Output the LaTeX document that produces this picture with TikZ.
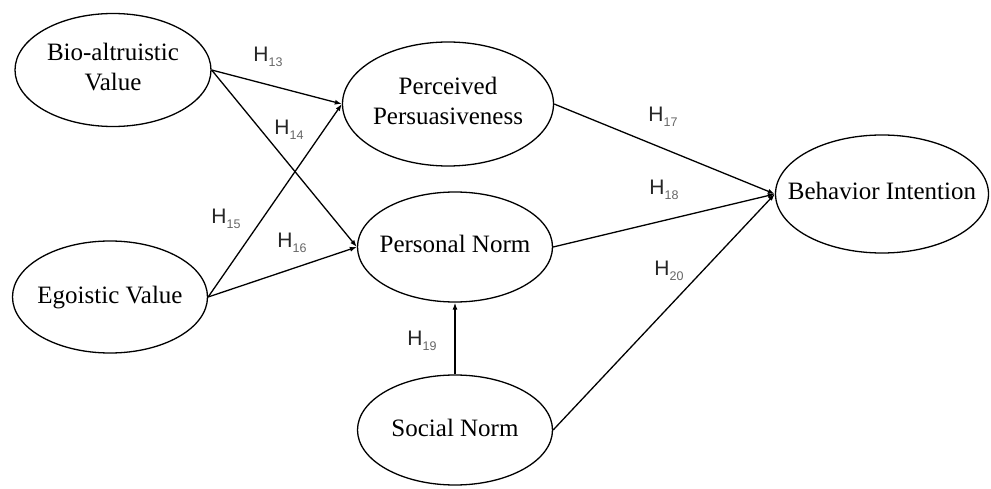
\documentclass[tikz,border=0pt]{standalone}
\usepackage{fontspec}
\setmainfont{Liberation Serif}
\newfontfamily\hfont{Liberation Sans}
\usetikzlibrary{shapes.geometric,arrows.meta}

% construct names are centred in a zero-width box so the ellipse keeps its given size
\newcommand{\cname}[1]{\makebox[0pt]{\begin{tabular}{@{}c@{}}#1\end{tabular}}}
\newcommand{\hyplabel}[1]{H\raisebox{-0.22em}{\fontsize{12.5}{12.5}\selectfont\color{black!60}#1}}

\tikzset{
  construct/.style={draw, ellipse, line width=1.3pt, inner sep=0pt,
    font=\fontsize{25}{30}\selectfont},
  path/.style={line width=1.3pt, -{Latex[length=7pt,width=5pt]}},
  hyp/.style={inner sep=0pt, font=\hfont\fontsize{21}{21}\selectfont, text=black!85},
}

\begin{document}
\begin{tikzpicture}[x=1pt, y=-1pt]
  \useasboundingbox (0,0) rectangle (991,489);

  % constructs
  \node[construct, minimum width=196pt, minimum height=113pt] (bio) at (113,70) {\cname{Bio-altruistic\\Value}};
  \node[construct, minimum width=195pt, minimum height=112pt] (ego) at (110,297) {\cname{Egoistic Value}};
  \node[construct, minimum width=211pt, minimum height=124pt] (pp)  at (448,104) {\cname{Perceived\\Persuasiveness}};
  \node[construct, minimum width=195pt, minimum height=110pt] (pn)  at (455,247) {\cname{Personal Norm}};
  \node[construct, minimum width=195pt, minimum height=110pt] (sn)  at (455,430) {\cname{Social Norm}};
  \node[construct, minimum width=213pt, minimum height=118pt] (bi)  at (882,194) {\cname{Behavior Intention}};

  % hypothesised paths
  \draw[path] (bio.east) -- (pp.west);
  \draw[path] (bio.east) -- (pn.west);
  \draw[path] (ego.east) -- (pp.west);
  \draw[path] (ego.east) -- (pn.west);
  \draw[path] (pp.east) -- (bi.west);
  \draw[path] (pn.east) -- (bi.west);
  \draw[path] (sn.north) -- (pn.south);
  \draw[path] (sn.east) -- (bi.west);

  % hypothesis labels
  \node[hyp] (h13) at (268,57)  {\hyplabel{13}};
  \node[hyp] (h14) at (289,130) {\hyplabel{14}};
  \node[hyp] (h15) at (226,219) {\hyplabel{15}};
  \node[hyp] (h16) at (292,243) {\hyplabel{16}};
  \node[hyp] (h17) at (663,117) {\hyplabel{17}};
  \node[hyp] (h18) at (664,190) {\hyplabel{18}};
  \node[hyp] (h19) at (422,341) {\hyplabel{19}};
  \node[hyp] (h20) at (669,271) {\hyplabel{20}};
\end{tikzpicture}
\end{document}
